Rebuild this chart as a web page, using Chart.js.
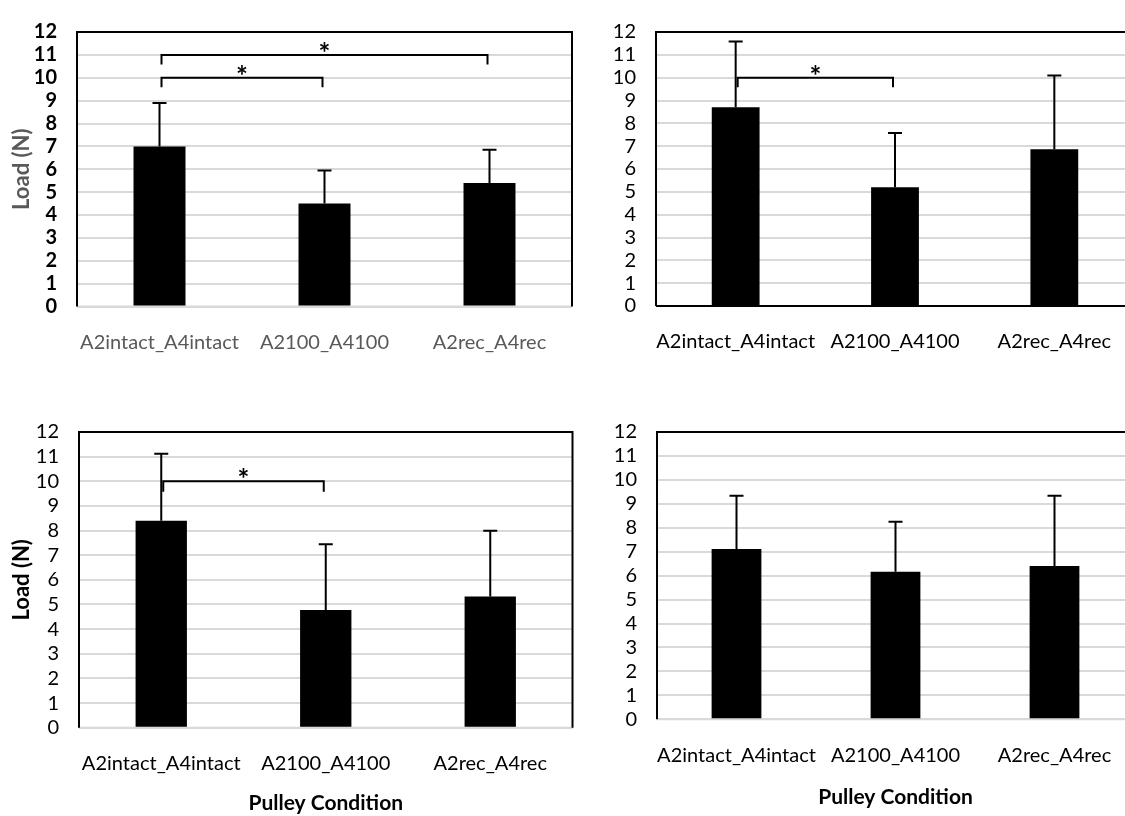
<!DOCTYPE html>
<html>
<head>
<meta charset="utf-8">
<script src="https://cdn.jsdelivr.net/npm/chart.js@4"></script>
<style>
  html, body { margin: 0; padding: 0; background: #fff; width: 1125px; height: 816px; overflow: hidden; }
  .panel { position: absolute; }
</style>
</head>
<body>
<div class="panel" style="left:0;top:0"><canvas id="c1" width="580" height="380"></canvas></div>
<div class="panel" style="left:560px;top:0"><canvas id="c2" width="580" height="380"></canvas></div>
<div class="panel" style="left:0;top:400px"><canvas id="c3" width="580" height="416"></canvas></div>
<div class="panel" style="left:560px;top:400px"><canvas id="c4" width="580" height="416"></canvas></div>
<script>
// data
const categories = ['A2intact_A4intact', 'A2100_A4100', 'A2rec_A4rec'];
const yMax = 12;

const meanTopLeft = [7.0, 4.5, 5.4];
const sdTopLeft = [1.9, 1.45, 1.45];
const sigTopLeft = [[0, 2, 11], [0, 1, 10]];   // [from, to, level]

const meanTopRight = [8.7, 5.2, 6.86];
const sdTopRight = [2.88, 2.38, 3.23];
const sigTopRight = [[0, 1, 10]];

const meanBottomLeft = [8.4, 4.78, 5.32];
const sdBottomLeft = [2.72, 2.66, 2.67];
const sigBottomLeft = [[0, 1, 10]];

const meanBottomRight = [7.11, 6.16, 6.4];
const sdBottomRight = [2.23, 2.09, 2.94];
const sigBottomRight = [];

Chart.defaults.font.family = 'Lato, "Open Sans", sans-serif';

// frame, error bars and significance brackets
const annotate = {
  id: 'annotate',
  beforeDatasetsDraw(chart, args, opts) {
    const { ctx, chartArea: a } = chart;
    ctx.save();
    ctx.lineWidth = 2;
    ctx.strokeStyle = opts.zeroColor;
    ctx.beginPath();
    ctx.moveTo(a.left, a.bottom); ctx.lineTo(a.right, a.bottom);
    ctx.stroke();
    ctx.strokeStyle = '#000';
    ctx.beginPath();
    ctx.moveTo(a.left, a.bottom); ctx.lineTo(a.left, a.top);
    ctx.lineTo(a.right, a.top); ctx.lineTo(a.right, a.bottom);
    ctx.stroke();
    ctx.restore();
  },
  afterDatasetsDraw(chart, args, opts) {
    const { ctx } = chart;
    const x = chart.scales.x, y = chart.scales.y;
    ctx.save();
    ctx.strokeStyle = '#000';
    ctx.fillStyle = '#000';
    opts.mean.forEach((m, i) => {
      const px = x.getPixelForValue(i);
      const top = y.getPixelForValue(m + opts.sd[i]);
      ctx.lineWidth = 2;
      ctx.beginPath();
      ctx.moveTo(px, y.getPixelForValue(m)); ctx.lineTo(px, top);
      ctx.moveTo(px - 7, top); ctx.lineTo(px + 7, top);
      ctx.stroke();
    });
    opts.sig.forEach(([from, to, level]) => {
      const x1 = x.getPixelForValue(from) + 2;
      const x2 = x.getPixelForValue(to) - 2;
      const ly = y.getPixelForValue(level);
      const dy = y.getPixelForValue(level - 0.42);
      ctx.lineWidth = 2;
      ctx.beginPath();
      ctx.moveTo(x1, dy); ctx.lineTo(x1, ly); ctx.lineTo(x2, ly); ctx.lineTo(x2, dy);
      ctx.stroke();
      ctx.font = 'bold 28px Lato';
      ctx.textAlign = 'center';
      ctx.textBaseline = 'alphabetic';
      ctx.fillText('*', (x1 + x2) / 2, ly + 8);
    });
    ctx.restore();
  }
};

function makeChart(id, mean, sd, sig, p) {
  return new Chart(document.getElementById(id), {
    type: 'bar',
    data: {
      labels: categories,
      datasets: [{
        data: mean,
        backgroundColor: '#000',
        borderWidth: 0,
        categoryPercentage: 1,
        barPercentage: p.barPct
      }]
    },
    plugins: [annotate],
    options: {
      responsive: false,
      animation: false,
      layout: { padding: { left: 0, top: p.padTop, right: p.padRight, bottom: 0 } },
      plugins: {
        legend: { display: false },
        tooltip: { enabled: false },
        annotate: { mean, sd, sig, zeroColor: p.zeroColor }
      },
      scales: {
        x: {
          offset: true,
          grid: { display: false },
          border: { display: false },
          ticks: {
            color: p.xLabelColor,
            font: { size: 20 },
            padding: 16,
            maxRotation: 0,
            autoSkip: false
          },
          title: {
            display: p.xTitle,
            text: 'Pulley Condition',
            color: '#000',
            font: { size: 21, weight: 'bold' },
            padding: { top: 0, bottom: p.xTitlePad }
          },
          afterFit: (s) => { s.height = p.xHeight; }
        },
        y: {
          min: 0,
          max: yMax,
          grid: { color: '#d9d9d9', lineWidth: 2, drawTicks: false },
          border: { display: false },
          ticks: {
            stepSize: 1,
            autoSkip: false,
            color: '#000',
            font: { size: 20, weight: p.tickWeight },
            padding: 20
          },
          title: {
            display: p.yTitle,
            text: 'Load (N)',
            color: p.yTitleColor,
            font: { size: 22, weight: 'bold' },
            padding: { top: 9, bottom: 0 }
          },
          afterFit: (s) => { s.width = p.yWidth; }
        }
      }
    }
  });
}

makeChart('c1', meanTopLeft, sdTopLeft, sigTopLeft, {
  padTop: 17, padRight: 8, yWidth: 77, xHeight: 73.5, barPct: 0.315,
  xTitle: false, xTitlePad: 0, yTitle: true, yTitleColor: '#595959',
  tickWeight: 'bold', xLabelColor: '#595959', zeroColor: '#d9d9d9'
});
makeChart('c2', meanTopRight, sdTopRight, sigTopRight, {
  padTop: 19, padRight: 6, yWidth: 96, xHeight: 74, barPct: 0.3,
  xTitle: false, xTitlePad: 0, yTitle: false, yTitleColor: '#000',
  tickWeight: 'normal', xLabelColor: '#000', zeroColor: '#000'
});
makeChart('c3', meanBottomLeft, sdBottomLeft, sigBottomLeft, {
  padTop: 15.7, padRight: 7.5, yWidth: 79, xHeight: 88.3, barPct: 0.312,
  xTitle: true, xTitlePad: 0, yTitle: true, yTitleColor: '#000',
  tickWeight: 'normal', xLabelColor: '#000', zeroColor: '#d9d9d9'
});
makeChart('c4', meanBottomRight, sdBottomRight, sigBottomRight, {
  padTop: 12.3, padRight: 6, yWidth: 97, xHeight: 96.7, barPct: 0.313,
  xTitle: true, xTitlePad: 6, yTitle: false, yTitleColor: '#000',
  tickWeight: 'normal', xLabelColor: '#000', zeroColor: '#d9d9d9'
});
</script>
</body>
</html>
